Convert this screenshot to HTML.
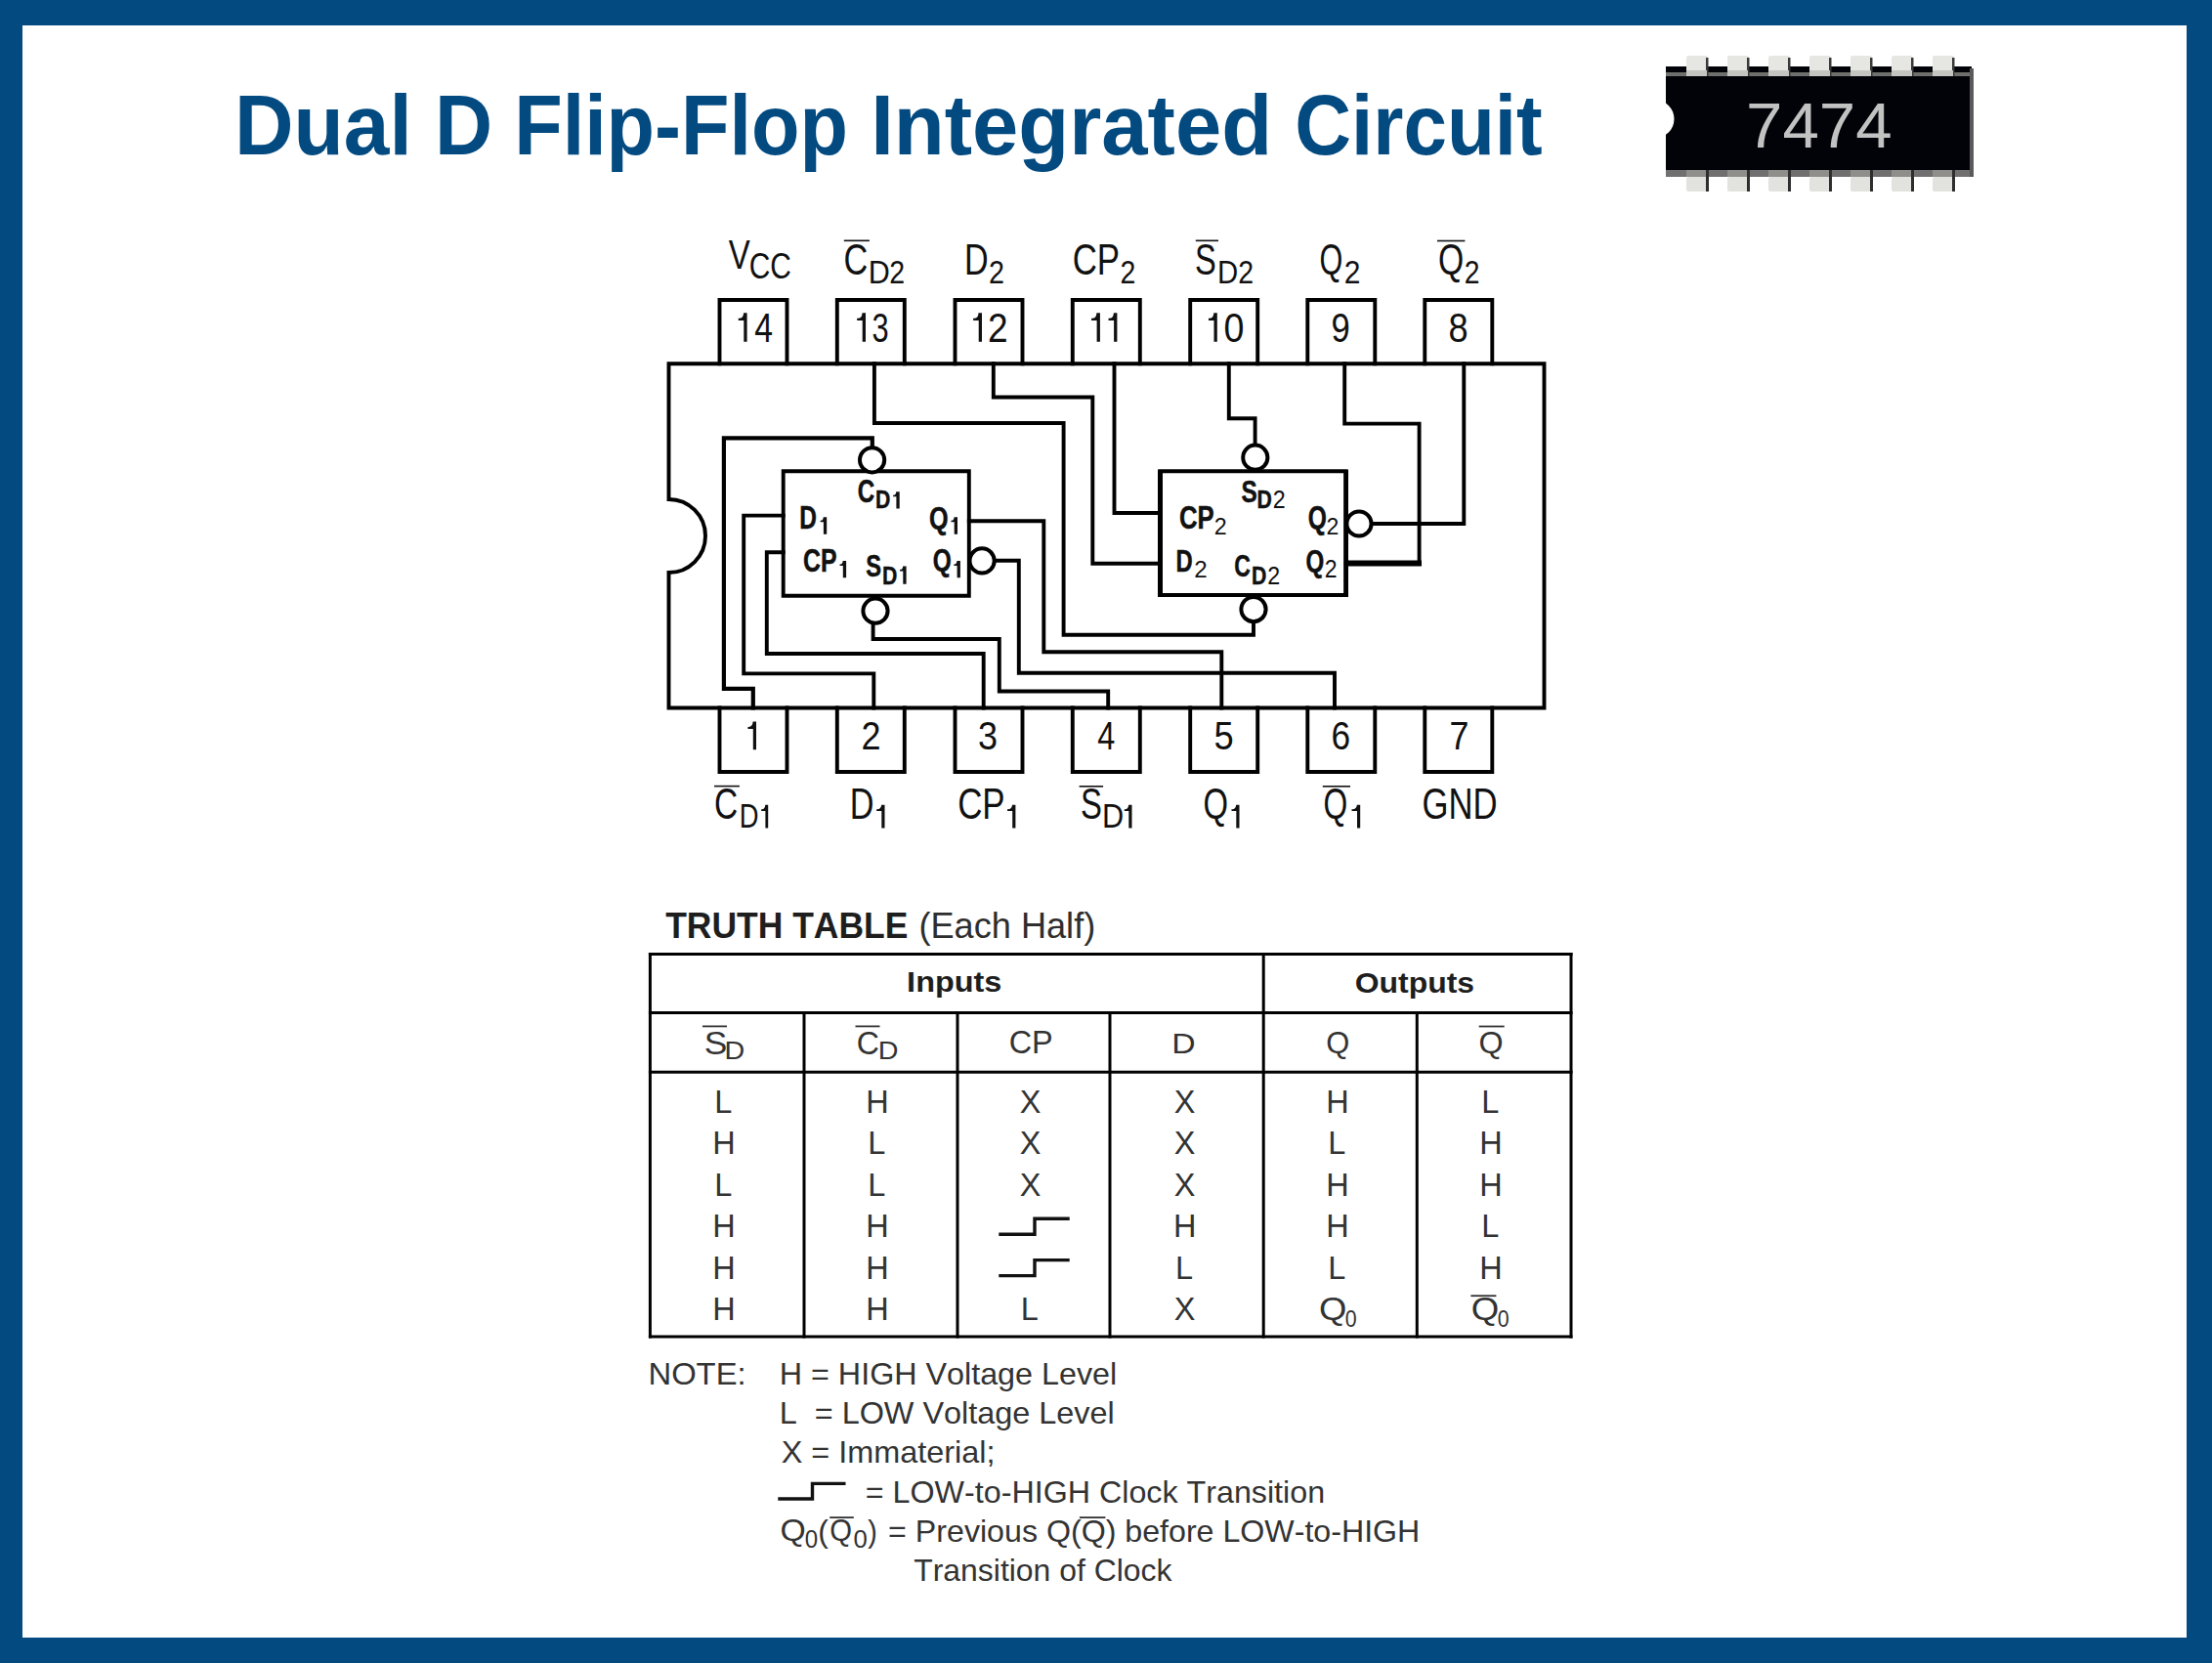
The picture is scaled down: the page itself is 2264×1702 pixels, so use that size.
<!DOCTYPE html>
<html><head><meta charset="utf-8"><style>
html,body{margin:0;padding:0;background:#034a80;overflow:hidden;width:2264px;height:1702px;}
svg{display:block;}
text{font-family:"Liberation Sans",sans-serif;font-kerning:none;}
</style></head><body>
<svg width="2264" height="1702" viewBox="0 0 2264 1702">
<rect x="0" y="0" width="2264" height="1702" fill="#034a80"/>
<rect x="23" y="26" width="2215" height="1650" fill="#fff"/>
<text x="239.99" y="157.60" font-size="87.50" font-weight="bold" fill="#034a80" textLength="181.75" lengthAdjust="spacingAndGlyphs">Dual</text>
<text x="444.92" y="157.60" font-size="87.50" font-weight="bold" fill="#034a80" textLength="59.11" lengthAdjust="spacingAndGlyphs">D</text>
<text x="526.18" y="157.60" font-size="87.50" font-weight="bold" fill="#034a80" textLength="341.74" lengthAdjust="spacingAndGlyphs">Flip-Flop</text>
<text x="891.21" y="157.60" font-size="87.50" font-weight="bold" fill="#034a80" textLength="410.89" lengthAdjust="spacingAndGlyphs">Integrated</text>
<text x="1325.22" y="157.60" font-size="87.50" font-weight="bold" fill="#034a80" textLength="253.56" lengthAdjust="spacingAndGlyphs">Circuit</text>
<rect x="1705" y="68" width="313" height="107" fill="#020308"/>
<rect x="1705" y="74" width="313" height="4" fill="#6f6f6d"/>
<rect x="1705" y="174" width="313" height="7" fill="#707070"/>
<rect x="2016" y="70" width="4" height="111" fill="#5a5a5a"/>
<rect x="1726" y="57" width="22" height="21" rx="2" fill="#e6e6e2"/>
<rect x="1746" y="59" width="2.5" height="19" fill="#3a3a3a"/>
<rect x="1726" y="72" width="21" height="6" fill="#c4c4c0"/>
<rect x="1726" y="181" width="23" height="15" rx="2" fill="#e2e2de"/>
<rect x="1746" y="174" width="3" height="22" fill="#2e2e2e"/>
<rect x="1726" y="174" width="20" height="7" fill="#8e8e8a"/>
<rect x="1768" y="57" width="22" height="21" rx="2" fill="#e6e6e2"/>
<rect x="1788" y="59" width="2.5" height="19" fill="#3a3a3a"/>
<rect x="1768" y="72" width="21" height="6" fill="#c4c4c0"/>
<rect x="1768" y="181" width="23" height="15" rx="2" fill="#e2e2de"/>
<rect x="1788" y="174" width="3" height="22" fill="#2e2e2e"/>
<rect x="1768" y="174" width="20" height="7" fill="#8e8e8a"/>
<rect x="1810" y="57" width="22" height="21" rx="2" fill="#e6e6e2"/>
<rect x="1830" y="59" width="2.5" height="19" fill="#3a3a3a"/>
<rect x="1810" y="72" width="21" height="6" fill="#c4c4c0"/>
<rect x="1810" y="181" width="23" height="15" rx="2" fill="#e2e2de"/>
<rect x="1830" y="174" width="3" height="22" fill="#2e2e2e"/>
<rect x="1810" y="174" width="20" height="7" fill="#8e8e8a"/>
<rect x="1852" y="57" width="22" height="21" rx="2" fill="#e6e6e2"/>
<rect x="1872" y="59" width="2.5" height="19" fill="#3a3a3a"/>
<rect x="1852" y="72" width="21" height="6" fill="#c4c4c0"/>
<rect x="1852" y="181" width="23" height="15" rx="2" fill="#e2e2de"/>
<rect x="1872" y="174" width="3" height="22" fill="#2e2e2e"/>
<rect x="1852" y="174" width="20" height="7" fill="#8e8e8a"/>
<rect x="1894" y="57" width="22" height="21" rx="2" fill="#e6e6e2"/>
<rect x="1914" y="59" width="2.5" height="19" fill="#3a3a3a"/>
<rect x="1894" y="72" width="21" height="6" fill="#c4c4c0"/>
<rect x="1894" y="181" width="23" height="15" rx="2" fill="#e2e2de"/>
<rect x="1914" y="174" width="3" height="22" fill="#2e2e2e"/>
<rect x="1894" y="174" width="20" height="7" fill="#8e8e8a"/>
<rect x="1936" y="57" width="22" height="21" rx="2" fill="#e6e6e2"/>
<rect x="1956" y="59" width="2.5" height="19" fill="#3a3a3a"/>
<rect x="1936" y="72" width="21" height="6" fill="#c4c4c0"/>
<rect x="1936" y="181" width="23" height="15" rx="2" fill="#e2e2de"/>
<rect x="1956" y="174" width="3" height="22" fill="#2e2e2e"/>
<rect x="1936" y="174" width="20" height="7" fill="#8e8e8a"/>
<rect x="1978" y="57" width="22" height="21" rx="2" fill="#e6e6e2"/>
<rect x="1998" y="59" width="2.5" height="19" fill="#3a3a3a"/>
<rect x="1978" y="72" width="21" height="6" fill="#c4c4c0"/>
<rect x="1978" y="181" width="23" height="15" rx="2" fill="#e2e2de"/>
<rect x="1998" y="174" width="3" height="22" fill="#2e2e2e"/>
<rect x="1978" y="174" width="20" height="7" fill="#8e8e8a"/>
<circle cx="1694" cy="121.7" r="19.5" fill="#fff"/>
<text x="1787.05" y="150.50" font-size="64.24" fill="#c2c2c2" textLength="149.62" lengthAdjust="spacingAndGlyphs">7474</text>
<path d="M684.5,511 L684.5,372.2 L1580.5,372.2 L1580.5,724.5 L684.5,724.5 L684.5,586" stroke="#000" stroke-width="3.9" fill="none" stroke-linejoin="miter" stroke-linecap="square"/>
<path d="M684.5,511 A37.5,37.5 0 0 1 684.5,586" stroke="#000" stroke-width="3.9" fill="none"/>
<path d="M736.5,372.2 L736.5,307 L805.5,307 L805.5,372.2" stroke="#000" stroke-width="3.9" fill="none" stroke-linejoin="miter" stroke-linecap="square"/>
<path d="M856.8,372.2 L856.8,307 L925.8,307 L925.8,372.2" stroke="#000" stroke-width="3.9" fill="none" stroke-linejoin="miter" stroke-linecap="square"/>
<path d="M977.5,372.2 L977.5,307 L1046.5,307 L1046.5,372.2" stroke="#000" stroke-width="3.9" fill="none" stroke-linejoin="miter" stroke-linecap="square"/>
<path d="M1097.8,372.2 L1097.8,307 L1166.8,307 L1166.8,372.2" stroke="#000" stroke-width="3.9" fill="none" stroke-linejoin="miter" stroke-linecap="square"/>
<path d="M1218.2,372.2 L1218.2,307 L1287.2,307 L1287.2,372.2" stroke="#000" stroke-width="3.9" fill="none" stroke-linejoin="miter" stroke-linecap="square"/>
<path d="M1338.3,372.2 L1338.3,307 L1407.3,307 L1407.3,372.2" stroke="#000" stroke-width="3.9" fill="none" stroke-linejoin="miter" stroke-linecap="square"/>
<path d="M1458.3,372.2 L1458.3,307 L1527.3,307 L1527.3,372.2" stroke="#000" stroke-width="3.9" fill="none" stroke-linejoin="miter" stroke-linecap="square"/>
<path d="M736.5,724.5 L736.5,790 L805.5,790 L805.5,724.5" stroke="#000" stroke-width="3.9" fill="none" stroke-linejoin="miter" stroke-linecap="square"/>
<path d="M856.8,724.5 L856.8,790 L925.8,790 L925.8,724.5" stroke="#000" stroke-width="3.9" fill="none" stroke-linejoin="miter" stroke-linecap="square"/>
<path d="M977.5,724.5 L977.5,790 L1046.5,790 L1046.5,724.5" stroke="#000" stroke-width="3.9" fill="none" stroke-linejoin="miter" stroke-linecap="square"/>
<path d="M1097.8,724.5 L1097.8,790 L1166.8,790 L1166.8,724.5" stroke="#000" stroke-width="3.9" fill="none" stroke-linejoin="miter" stroke-linecap="square"/>
<path d="M1218.2,724.5 L1218.2,790 L1287.2,790 L1287.2,724.5" stroke="#000" stroke-width="3.9" fill="none" stroke-linejoin="miter" stroke-linecap="square"/>
<path d="M1338.3,724.5 L1338.3,790 L1407.3,790 L1407.3,724.5" stroke="#000" stroke-width="3.9" fill="none" stroke-linejoin="miter" stroke-linecap="square"/>
<path d="M1458.3,724.5 L1458.3,790 L1527.3,790 L1527.3,724.5" stroke="#000" stroke-width="3.9" fill="none" stroke-linejoin="miter" stroke-linecap="square"/>
<path d="M801.7,482.2 L991.8,482.2 L991.8,609.8 L801.7,609.8 L801.7,482.2" stroke="#000" stroke-width="3.9" fill="none" stroke-linejoin="miter" stroke-linecap="square"/>
<path d="M1187.2,482.2 L1377.7,482.2 L1377.7,609 L1187.2,609 L1187.2,482.2" stroke="#000" stroke-width="3.9" fill="none" stroke-linejoin="miter" stroke-linecap="square"/>
<rect x="1185" y="481" width="5" height="130" fill="#000"/>
<rect x="1375.2" y="481" width="4.8" height="130" fill="#000"/>
<path d="M894.9,372.2 L894.9,433 L1088.6,433 L1088.6,649.7 L1283,649.7 L1283,636" stroke="#000" stroke-width="3.9" fill="none" stroke-linejoin="miter" stroke-linecap="square"/>
<path d="M1016.8,372.2 L1016.8,406.5 L1118.3,406.5 L1118.3,576.8 L1187,576.8" stroke="#000" stroke-width="3.9" fill="none" stroke-linejoin="miter" stroke-linecap="square"/>
<path d="M1140.5,372.2 L1140.5,525 L1187,525" stroke="#000" stroke-width="3.9" fill="none" stroke-linejoin="miter" stroke-linecap="square"/>
<path d="M1257.8,372.2 L1257.8,428.3 L1284.6,428.3 L1284.6,456" stroke="#000" stroke-width="3.9" fill="none" stroke-linejoin="miter" stroke-linecap="square"/>
<path d="M1376.2,372.2 L1376.2,433.6 L1452.6,433.6 L1452.6,576.6 L1377.7,576.6" stroke="#000" stroke-width="3.9" fill="none" stroke-linejoin="miter" stroke-linecap="square"/>
<rect x="1378" y="573.5" width="77" height="6" fill="#000"/>
<path d="M1498.3,372.2 L1498.3,536 L1403,536" stroke="#000" stroke-width="3.9" fill="none" stroke-linejoin="miter" stroke-linecap="square"/>
<path d="M770.8,724.5 L770.8,704.8 L740.9,704.8 L740.9,448.3 L892.8,448.3 L892.8,457" stroke="#000" stroke-width="4.2" fill="none" stroke-linejoin="miter" stroke-linecap="square"/>
<path d="M894.3,724.5 L894.3,689.4 L761.2,689.4 L761.2,527.6 L801.7,527.6" stroke="#000" stroke-width="3.9" fill="none" stroke-linejoin="miter" stroke-linecap="square"/>
<path d="M1006.7,724.5 L1006.7,669 L784.8,669 L784.8,565.2 L801.7,565.2" stroke="#000" stroke-width="3.9" fill="none" stroke-linejoin="miter" stroke-linecap="square"/>
<path d="M1134.2,724.5 L1134.2,707.5 L1022.8,707.5 L1022.8,654 L893.6,654 L893.6,638" stroke="#000" stroke-width="3.9" fill="none" stroke-linejoin="miter" stroke-linecap="square"/>
<path d="M1250.3,724.5 L1250.3,667.3 L1068.3,667.3 L1068.3,533.3 L991.8,533.3" stroke="#000" stroke-width="3.9" fill="none" stroke-linejoin="miter" stroke-linecap="square"/>
<path d="M1366,724.5 L1366,688.7 L1042.8,688.7 L1042.8,573.8 L1017,573.8" stroke="#000" stroke-width="3.9" fill="none" stroke-linejoin="miter" stroke-linecap="square"/>
<circle cx="892.6" cy="470.8" r="12.6" stroke="#000" stroke-width="4" fill="#fff"/>
<circle cx="896" cy="625.2" r="12.6" stroke="#000" stroke-width="4" fill="#fff"/>
<circle cx="1005.1" cy="573.9" r="12.6" stroke="#000" stroke-width="4" fill="#fff"/>
<circle cx="1284.8" cy="468.2" r="12.6" stroke="#000" stroke-width="4" fill="#fff"/>
<circle cx="1283" cy="623.6" r="12.6" stroke="#000" stroke-width="4" fill="#fff"/>
<circle cx="1391" cy="536" r="12.6" stroke="#000" stroke-width="4" fill="#fff"/>
<path d="M764.60,320.30 L764.60,349.80 L761.30,349.80 L761.30,327.97 L755.75,327.97 L755.75,325.76 Q760.63,326.44 761.15,320.30 Z" fill="#111"/>
<text x="772.23" y="349.80" font-size="42.88" fill="#111" textLength="18.76" lengthAdjust="spacingAndGlyphs">4</text>
<path d="M886.00,320.30 L886.00,349.80 L882.70,349.80 L882.70,327.97 L877.15,327.97 L877.15,325.76 Q882.03,326.44 882.55,320.30 Z" fill="#111"/>
<text x="892.53" y="349.80" font-size="42.88" fill="#111" textLength="17.13" lengthAdjust="spacingAndGlyphs">3</text>
<path d="M1005.00,320.30 L1005.00,349.80 L1001.70,349.80 L1001.70,327.97 L996.15,327.97 L996.15,325.76 Q1001.03,326.44 1001.55,320.30 Z" fill="#111"/>
<text x="1010.93" y="349.80" font-size="42.88" fill="#111" textLength="20.63" lengthAdjust="spacingAndGlyphs">2</text>
<path d="M1125.90,320.30 L1125.90,349.80 L1122.60,349.80 L1122.60,327.97 L1117.05,327.97 L1117.05,325.76 Q1121.93,326.44 1122.45,320.30 Z" fill="#111"/>
<path d="M1143.40,320.30 L1143.40,349.80 L1140.10,349.80 L1140.10,327.97 L1134.55,327.97 L1134.55,325.76 Q1139.43,326.44 1139.95,320.30 Z" fill="#111"/>
<path d="M1245.80,320.30 L1245.80,349.80 L1242.50,349.80 L1242.50,327.97 L1236.95,327.97 L1236.95,325.76 Q1241.83,326.44 1242.35,320.30 Z" fill="#111"/>
<text x="1252.53" y="349.80" font-size="42.88" fill="#111" textLength="20.94" lengthAdjust="spacingAndGlyphs">0</text>
<text x="1362.38" y="349.80" font-size="42.88" fill="#111" textLength="19.26" lengthAdjust="spacingAndGlyphs">9</text>
<text x="1482.43" y="349.80" font-size="42.88" fill="#111" textLength="20.15" lengthAdjust="spacingAndGlyphs">8</text>
<path d="M774.00,738.60 L774.00,767.20 L770.80,767.20 L770.80,746.04 L765.42,746.04 L765.42,743.89 Q770.15,744.55 770.65,738.60 Z" fill="#111"/>
<text x="881.59" y="767.20" font-size="41.57" fill="#111" textLength="20.02" lengthAdjust="spacingAndGlyphs">2</text>
<text x="1001.03" y="767.20" font-size="41.57" fill="#111" textLength="20.06" lengthAdjust="spacingAndGlyphs">3</text>
<text x="1123.25" y="767.20" font-size="41.57" fill="#111" textLength="18.10" lengthAdjust="spacingAndGlyphs">4</text>
<text x="1242.55" y="767.20" font-size="41.57" fill="#111" textLength="20.18" lengthAdjust="spacingAndGlyphs">5</text>
<text x="1362.51" y="767.20" font-size="41.57" fill="#111" textLength="19.65" lengthAdjust="spacingAndGlyphs">6</text>
<text x="1483.56" y="767.20" font-size="41.57" fill="#111" textLength="19.94" lengthAdjust="spacingAndGlyphs">7</text>
<text x="745.76" y="274.80" font-size="43.17" fill="#111" textLength="21.99" lengthAdjust="spacingAndGlyphs">V</text>
<text x="766.78" y="284.90" font-size="36.77" fill="#111" textLength="43.16" lengthAdjust="spacingAndGlyphs">CC</text>
<text x="863.56" y="281.20" font-size="44.04" fill="#111" textLength="24.75" lengthAdjust="spacingAndGlyphs">C</text>
<text x="888.79" y="290.10" font-size="33.72" fill="#111" textLength="22.07" lengthAdjust="spacingAndGlyphs">D</text>
<text x="910.16" y="290.10" font-size="33.72" fill="#111" textLength="15.87" lengthAdjust="spacingAndGlyphs">2</text>
<rect x="863.8" y="245.5" width="26.100000000000023" height="1.6" fill="#111"/>
<text x="986.90" y="281.20" font-size="44.04" fill="#111" textLength="24.63" lengthAdjust="spacingAndGlyphs">D</text>
<text x="1012.05" y="290.10" font-size="33.72" fill="#111" textLength="15.99" lengthAdjust="spacingAndGlyphs">2</text>
<text x="1097.63" y="281.20" font-size="44.04" fill="#111" textLength="48.41" lengthAdjust="spacingAndGlyphs">CP</text>
<text x="1146.46" y="290.10" font-size="33.72" fill="#111" textLength="15.87" lengthAdjust="spacingAndGlyphs">2</text>
<text x="1223.02" y="281.20" font-size="44.04" fill="#111" textLength="21.78" lengthAdjust="spacingAndGlyphs">S</text>
<text x="1245.99" y="290.10" font-size="33.72" fill="#111" textLength="21.22" lengthAdjust="spacingAndGlyphs">D</text>
<text x="1267.26" y="290.10" font-size="33.72" fill="#111" textLength="15.87" lengthAdjust="spacingAndGlyphs">2</text>
<rect x="1223.8" y="245.5" width="23.200000000000045" height="1.6" fill="#111"/>
<text x="1350.45" y="281.20" font-size="44.04" fill="#111" textLength="23.82" lengthAdjust="spacingAndGlyphs">Q</text>
<text x="1375.69" y="290.10" font-size="33.72" fill="#111" textLength="16.72" lengthAdjust="spacingAndGlyphs">2</text>
<text x="1472.10" y="281.20" font-size="44.04" fill="#111" textLength="26.21" lengthAdjust="spacingAndGlyphs">Q</text>
<text x="1498.68" y="290.10" font-size="33.72" fill="#111" textLength="15.75" lengthAdjust="spacingAndGlyphs">2</text>
<rect x="1471" y="245.7" width="28.40000000000009" height="1.6" fill="#111"/>
<text x="731.10" y="838.10" font-size="43.46" fill="#111" textLength="24.17" lengthAdjust="spacingAndGlyphs">C</text>
<text x="756.76" y="847.40" font-size="34.30" fill="#111" textLength="19.75" lengthAdjust="spacingAndGlyphs">D</text>
<path d="M786.20,823.80 L786.20,847.40 L783.40,847.40 L783.40,829.94 L779.20,829.94 L779.20,828.17 Q782.90,828.71 783.25,823.80 Z" fill="#111"/>
<rect x="731" y="803.8000000000001" width="25.899999999999977" height="1.6" fill="#111"/>
<text x="869.79" y="838.10" font-size="43.46" fill="#111" textLength="24.75" lengthAdjust="spacingAndGlyphs">D</text>
<path d="M905.50,823.80 L905.50,847.40 L902.30,847.40 L902.30,829.94 L897.10,829.94 L897.10,828.17 Q901.68,828.71 902.15,823.80 Z" fill="#111"/>
<text x="980.13" y="838.10" font-size="43.46" fill="#111" textLength="48.52" lengthAdjust="spacingAndGlyphs">CP</text>
<path d="M1039.40,823.80 L1039.40,847.40 L1036.20,847.40 L1036.20,829.94 L1031.00,829.94 L1031.00,828.17 Q1035.58,828.71 1036.05,823.80 Z" fill="#111"/>
<text x="1105.91" y="838.10" font-size="43.46" fill="#111" textLength="21.90" lengthAdjust="spacingAndGlyphs">S</text>
<text x="1127.98" y="847.40" font-size="34.30" fill="#111" textLength="22.19" lengthAdjust="spacingAndGlyphs">D</text>
<path d="M1158.50,823.80 L1158.50,847.40 L1155.30,847.40 L1155.30,829.94 L1150.80,829.94 L1150.80,828.17 Q1154.76,828.71 1155.15,823.80 Z" fill="#111"/>
<rect x="1104.6" y="804.0" width="24.5" height="1.6" fill="#111"/>
<text x="1231.45" y="838.10" font-size="43.46" fill="#111" textLength="25.52" lengthAdjust="spacingAndGlyphs">Q</text>
<path d="M1268.50,823.80 L1268.50,847.40 L1265.30,847.40 L1265.30,829.94 L1260.50,829.94 L1260.50,828.17 Q1264.72,828.71 1265.15,823.80 Z" fill="#111"/>
<text x="1354.49" y="838.10" font-size="43.46" fill="#111" textLength="24.73" lengthAdjust="spacingAndGlyphs">Q</text>
<path d="M1392.20,823.80 L1392.20,847.40 L1389.00,847.40 L1389.00,829.94 L1383.50,829.94 L1383.50,828.17 Q1388.34,828.71 1388.85,823.80 Z" fill="#111"/>
<rect x="1353.8" y="804.0" width="28.200000000000045" height="1.6" fill="#111"/>
<text x="1455.55" y="838.10" font-size="43.46" fill="#111" textLength="77.11" lengthAdjust="spacingAndGlyphs">GND</text>
<text x="877.81" y="513.50" font-size="32.56" font-weight="bold" fill="#111" textLength="17.45" lengthAdjust="spacingAndGlyphs" stroke="#111" stroke-width="0.5">C</text>
<text x="896.08" y="520.40" font-size="24.85" font-weight="bold" fill="#111" textLength="15.31" lengthAdjust="spacingAndGlyphs" stroke="#111" stroke-width="0.5">D</text>
<path d="M920.70,503.30 L920.70,520.40 L917.40,520.40 L917.40,508.30 L914.10,508.30 L914.10,506.70 Q917.00,507.30 917.25,503.30 Z" fill="#111"/>
<text x="818.16" y="540.70" font-size="32.41" font-weight="bold" fill="#111" textLength="17.66" lengthAdjust="spacingAndGlyphs" stroke="#111" stroke-width="0.5">D</text>
<path d="M846.20,529.30 L846.20,546.80 L842.90,546.80 L842.90,534.30 L839.60,534.30 L839.60,532.70 Q842.50,533.30 842.75,529.30 Z" fill="#111"/>
<text x="950.97" y="540.50" font-size="32.12" font-weight="bold" fill="#111" textLength="19.59" lengthAdjust="spacingAndGlyphs" stroke="#111" stroke-width="0.5">Q</text>
<path d="M980.00,529.30 L980.00,546.80 L976.70,546.80 L976.70,534.30 L973.40,534.30 L973.40,532.70 Q976.30,533.30 976.55,529.30 Z" fill="#111"/>
<text x="821.98" y="584.70" font-size="32.56" font-weight="bold" fill="#111" textLength="34.47" lengthAdjust="spacingAndGlyphs" stroke="#111" stroke-width="0.5">CP</text>
<path d="M866.10,574.10 L866.10,591.20 L862.80,591.20 L862.80,579.10 L859.50,579.10 L859.50,577.50 Q862.40,578.10 862.65,574.10 Z" fill="#111"/>
<text x="886.22" y="590.00" font-size="31.98" font-weight="bold" fill="#111" textLength="15.81" lengthAdjust="spacingAndGlyphs" stroke="#111" stroke-width="0.5">S</text>
<text x="902.98" y="597.70" font-size="26.60" font-weight="bold" fill="#111" textLength="15.31" lengthAdjust="spacingAndGlyphs" stroke="#111" stroke-width="0.5">D</text>
<path d="M927.60,579.40 L927.60,597.70 L924.30,597.70 L924.30,584.40 L921.00,584.40 L921.00,582.80 Q923.90,583.40 924.15,579.40 Z" fill="#111"/>
<text x="954.70" y="584.40" font-size="32.12" font-weight="bold" fill="#111" textLength="19.03" lengthAdjust="spacingAndGlyphs" stroke="#111" stroke-width="0.5">Q</text>
<path d="M982.90,574.10 L982.90,591.20 L979.60,591.20 L979.60,579.10 L976.30,579.10 L976.30,577.50 Q979.20,578.10 979.45,574.10 Z" fill="#111"/>
<text x="1270.40" y="513.90" font-size="31.98" font-weight="bold" fill="#111" textLength="16.25" lengthAdjust="spacingAndGlyphs" stroke="#111" stroke-width="0.5">S</text>
<text x="1286.38" y="520.40" font-size="24.85" font-weight="bold" fill="#111" textLength="15.31" lengthAdjust="spacingAndGlyphs" stroke="#111" stroke-width="0.5">D</text>
<text x="1302.83" y="520.40" font-size="24.85" fill="#111" textLength="12.94" lengthAdjust="spacingAndGlyphs">2</text>
<text x="1206.94" y="540.70" font-size="32.99" font-weight="bold" fill="#111" textLength="35.73" lengthAdjust="spacingAndGlyphs" stroke="#111" stroke-width="0.5">CP</text>
<text x="1242.63" y="547.30" font-size="24.27" fill="#111" textLength="12.94" lengthAdjust="spacingAndGlyphs">2</text>
<text x="1338.79" y="540.50" font-size="32.70" font-weight="bold" fill="#111" textLength="19.14" lengthAdjust="spacingAndGlyphs" stroke="#111" stroke-width="0.5">Q</text>
<text x="1357.44" y="547.30" font-size="24.27" fill="#111" textLength="12.82" lengthAdjust="spacingAndGlyphs">2</text>
<text x="1203.61" y="584.70" font-size="31.98" font-weight="bold" fill="#111" textLength="17.19" lengthAdjust="spacingAndGlyphs" stroke="#111" stroke-width="0.5">D</text>
<text x="1222.29" y="591.20" font-size="24.27" fill="#111" textLength="13.43" lengthAdjust="spacingAndGlyphs">2</text>
<text x="1263.26" y="590.00" font-size="31.98" font-weight="bold" fill="#111" textLength="16.57" lengthAdjust="spacingAndGlyphs" stroke="#111" stroke-width="0.5">C</text>
<text x="1281.08" y="597.70" font-size="26.02" font-weight="bold" fill="#111" textLength="15.31" lengthAdjust="spacingAndGlyphs" stroke="#111" stroke-width="0.5">D</text>
<text x="1297.13" y="597.70" font-size="26.02" fill="#111" textLength="12.94" lengthAdjust="spacingAndGlyphs">2</text>
<text x="1336.41" y="584.50" font-size="32.27" font-weight="bold" fill="#111" textLength="18.70" lengthAdjust="spacingAndGlyphs" stroke="#111" stroke-width="0.5">Q</text>
<text x="1355.84" y="591.20" font-size="24.85" fill="#111" textLength="12.82" lengthAdjust="spacingAndGlyphs">2</text>
<text x="681.20" y="959.90" font-size="37.79" font-weight="bold" fill="#1e1e1e" textLength="248.18" lengthAdjust="spacingAndGlyphs">TRUTH TABLE</text>
<text x="940.46" y="959.90" font-size="37.80" fill="#2e2e2e" textLength="180.78" lengthAdjust="spacingAndGlyphs">(Each Half)</text>
<path d="M665.4,976.5 L1608,976.5" stroke="#000" stroke-width="3.0" fill="none" stroke-linejoin="miter" stroke-linecap="square" stroke-linecap="butt"/>
<path d="M665.4,1036.6 L1608,1036.6" stroke="#000" stroke-width="3.0" fill="none" stroke-linejoin="miter" stroke-linecap="square" stroke-linecap="butt"/>
<path d="M665.4,1097.2 L1608,1097.2" stroke="#000" stroke-width="3.0" fill="none" stroke-linejoin="miter" stroke-linecap="square" stroke-linecap="butt"/>
<path d="M665.4,1368 L1608,1368" stroke="#000" stroke-width="3.0" fill="none" stroke-linejoin="miter" stroke-linecap="square" stroke-linecap="butt"/>
<path d="M665.4,976.5 L665.4,1368" stroke="#000" stroke-width="3.0" fill="none" stroke-linejoin="miter" stroke-linecap="square"/>
<path d="M1293.2,976.5 L1293.2,1368" stroke="#000" stroke-width="3.0" fill="none" stroke-linejoin="miter" stroke-linecap="square"/>
<path d="M1608,976.5 L1608,1368" stroke="#000" stroke-width="3.0" fill="none" stroke-linejoin="miter" stroke-linecap="square"/>
<path d="M823,1036.6 L823,1368" stroke="#000" stroke-width="3.0" fill="none" stroke-linejoin="miter" stroke-linecap="square"/>
<path d="M980,1036.6 L980,1368" stroke="#000" stroke-width="3.0" fill="none" stroke-linejoin="miter" stroke-linecap="square"/>
<path d="M1136,1036.6 L1136,1368" stroke="#000" stroke-width="3.0" fill="none" stroke-linejoin="miter" stroke-linecap="square"/>
<path d="M1450.3,1036.6 L1450.3,1368" stroke="#000" stroke-width="3.0" fill="none" stroke-linejoin="miter" stroke-linecap="square"/>
<text x="928.13" y="1015.30" font-size="29.51" font-weight="bold" fill="#1e1e1e" textLength="97.20" lengthAdjust="spacingAndGlyphs">Inputs</text>
<text x="1386.69" y="1016.20" font-size="30.38" font-weight="bold" fill="#1e1e1e" textLength="122.42" lengthAdjust="spacingAndGlyphs">Outputs</text>
<text x="720.69" y="1078.60" font-size="32.41" fill="#333" textLength="23.64" lengthAdjust="spacingAndGlyphs">S</text>
<text x="741.45" y="1084.00" font-size="26.16" fill="#333" textLength="20.73" lengthAdjust="spacingAndGlyphs">D</text>
<rect x="719" y="1049.5" width="25" height="1.8" fill="#333"/>
<text x="876.67" y="1078.60" font-size="32.41" fill="#333" textLength="23.15" lengthAdjust="spacingAndGlyphs">C</text>
<text x="898.65" y="1084.00" font-size="26.16" fill="#333" textLength="20.73" lengthAdjust="spacingAndGlyphs">D</text>
<rect x="875.5" y="1049.5" width="25" height="1.8" fill="#333"/>
<text x="1032.65" y="1078.30" font-size="32.41" fill="#333" textLength="45.06" lengthAdjust="spacingAndGlyphs">CP</text>
<text x="1199.23" y="1077.80" font-size="29.80" fill="#333" textLength="24.39" lengthAdjust="spacingAndGlyphs">D</text>
<text x="1357.14" y="1077.80" font-size="31.25" fill="#333" textLength="24.04" lengthAdjust="spacingAndGlyphs">Q</text>
<text x="1513.47" y="1077.80" font-size="31.25" fill="#333" textLength="25.07" lengthAdjust="spacingAndGlyphs">Q</text>
<rect x="1513.7" y="1049.6" width="26" height="1.8" fill="#333"/>
<text x="731.18" y="1139.00" font-size="33.14" fill="#333" textLength="18.06" lengthAdjust="spacingAndGlyphs">L</text>
<text x="886.27" y="1139.00" font-size="33.14" fill="#333" textLength="23.45" lengthAdjust="spacingAndGlyphs">H</text>
<text x="1043.75" y="1139.00" font-size="33.14" fill="#333" textLength="21.66" lengthAdjust="spacingAndGlyphs">X</text>
<text x="1201.85" y="1139.00" font-size="33.14" fill="#333" textLength="21.66" lengthAdjust="spacingAndGlyphs">X</text>
<text x="1357.27" y="1139.00" font-size="33.14" fill="#333" textLength="23.45" lengthAdjust="spacingAndGlyphs">H</text>
<text x="1516.18" y="1139.00" font-size="33.14" fill="#333" textLength="18.06" lengthAdjust="spacingAndGlyphs">L</text>
<text x="729.27" y="1181.40" font-size="33.14" fill="#333" textLength="23.45" lengthAdjust="spacingAndGlyphs">H</text>
<text x="888.18" y="1181.40" font-size="33.14" fill="#333" textLength="18.06" lengthAdjust="spacingAndGlyphs">L</text>
<text x="1043.75" y="1181.40" font-size="33.14" fill="#333" textLength="21.66" lengthAdjust="spacingAndGlyphs">X</text>
<text x="1201.85" y="1181.40" font-size="33.14" fill="#333" textLength="21.66" lengthAdjust="spacingAndGlyphs">X</text>
<text x="1359.18" y="1181.40" font-size="33.14" fill="#333" textLength="18.06" lengthAdjust="spacingAndGlyphs">L</text>
<text x="1514.27" y="1181.40" font-size="33.14" fill="#333" textLength="23.45" lengthAdjust="spacingAndGlyphs">H</text>
<text x="731.18" y="1223.80" font-size="33.14" fill="#333" textLength="18.06" lengthAdjust="spacingAndGlyphs">L</text>
<text x="888.18" y="1223.80" font-size="33.14" fill="#333" textLength="18.06" lengthAdjust="spacingAndGlyphs">L</text>
<text x="1043.75" y="1223.80" font-size="33.14" fill="#333" textLength="21.66" lengthAdjust="spacingAndGlyphs">X</text>
<text x="1201.85" y="1223.80" font-size="33.14" fill="#333" textLength="21.66" lengthAdjust="spacingAndGlyphs">X</text>
<text x="1357.27" y="1223.80" font-size="33.14" fill="#333" textLength="23.45" lengthAdjust="spacingAndGlyphs">H</text>
<text x="1514.27" y="1223.80" font-size="33.14" fill="#333" textLength="23.45" lengthAdjust="spacingAndGlyphs">H</text>
<text x="729.27" y="1266.20" font-size="33.14" fill="#333" textLength="23.45" lengthAdjust="spacingAndGlyphs">H</text>
<text x="886.27" y="1266.20" font-size="33.14" fill="#333" textLength="23.45" lengthAdjust="spacingAndGlyphs">H</text>
<path d="M1024,1263.2 L1059,1263.2 L1059,1247.2 L1093,1247.2" stroke="#111" stroke-width="3.4" fill="none" stroke-linejoin="miter" stroke-linecap="square" stroke-linecap="butt"/>
<text x="1200.97" y="1266.20" font-size="33.14" fill="#333" textLength="23.45" lengthAdjust="spacingAndGlyphs">H</text>
<text x="1357.27" y="1266.20" font-size="33.14" fill="#333" textLength="23.45" lengthAdjust="spacingAndGlyphs">H</text>
<text x="1516.18" y="1266.20" font-size="33.14" fill="#333" textLength="18.06" lengthAdjust="spacingAndGlyphs">L</text>
<text x="729.27" y="1308.60" font-size="33.14" fill="#333" textLength="23.45" lengthAdjust="spacingAndGlyphs">H</text>
<text x="886.27" y="1308.60" font-size="33.14" fill="#333" textLength="23.45" lengthAdjust="spacingAndGlyphs">H</text>
<path d="M1024,1305.6 L1059,1305.6 L1059,1289.6 L1093,1289.6" stroke="#111" stroke-width="3.4" fill="none" stroke-linejoin="miter" stroke-linecap="square" stroke-linecap="butt"/>
<text x="1202.88" y="1308.60" font-size="33.14" fill="#333" textLength="18.06" lengthAdjust="spacingAndGlyphs">L</text>
<text x="1359.18" y="1308.60" font-size="33.14" fill="#333" textLength="18.06" lengthAdjust="spacingAndGlyphs">L</text>
<text x="1514.27" y="1308.60" font-size="33.14" fill="#333" textLength="23.45" lengthAdjust="spacingAndGlyphs">H</text>
<text x="729.27" y="1351.00" font-size="33.14" fill="#333" textLength="23.45" lengthAdjust="spacingAndGlyphs">H</text>
<text x="886.27" y="1351.00" font-size="33.14" fill="#333" textLength="23.45" lengthAdjust="spacingAndGlyphs">H</text>
<text x="1044.78" y="1351.00" font-size="33.14" fill="#333" textLength="18.06" lengthAdjust="spacingAndGlyphs">L</text>
<text x="1201.85" y="1351.00" font-size="33.14" fill="#333" textLength="21.66" lengthAdjust="spacingAndGlyphs">X</text>
<text x="1349.97" y="1351.00" font-size="32.85" fill="#333" textLength="28.37" lengthAdjust="spacingAndGlyphs">Q</text>
<text x="1376.87" y="1357.90" font-size="24.71" fill="#333" textLength="11.87" lengthAdjust="spacingAndGlyphs">0</text>
<text x="1505.77" y="1351.00" font-size="32.85" fill="#333" textLength="28.49" lengthAdjust="spacingAndGlyphs">Q</text>
<text x="1532.67" y="1357.90" font-size="24.71" fill="#333" textLength="11.87" lengthAdjust="spacingAndGlyphs">0</text>
<rect x="1505.4" y="1325.3" width="26" height="1.8" fill="#333"/>
<text x="663.51" y="1417.20" font-size="30.50" fill="#333" textLength="100.08" lengthAdjust="spacingAndGlyphs">NOTE:</text>
<text x="797.75" y="1417.20" font-size="30.50" fill="#333" textLength="345.41" lengthAdjust="spacingAndGlyphs">H = HIGH Voltage Level</text>
<text x="797.74" y="1457.00" font-size="30.50" fill="#333" textLength="343.02" lengthAdjust="spacingAndGlyphs" xml:space="preserve">L  = LOW Voltage Level</text>
<text x="799.67" y="1496.80" font-size="30.50" fill="#333" textLength="218.74" lengthAdjust="spacingAndGlyphs">X = Immaterial;</text>
<path d="M798,1534 L831.5,1534 L831.5,1518.4 L863.8,1518.4" stroke="#111" stroke-width="3.4" fill="none" stroke-linejoin="miter" stroke-linecap="square" stroke-linecap="butt"/>
<text x="885.83" y="1537.80" font-size="30.50" fill="#333" textLength="470.27" lengthAdjust="spacingAndGlyphs">= LOW-to-HIGH Clock Transition</text>
<text x="798.40" y="1576.90" font-size="30.50" fill="#333" textLength="26.21" lengthAdjust="spacingAndGlyphs">Q</text>
<text x="823.66" y="1583.80" font-size="25.50" fill="#333" textLength="13.38" lengthAdjust="spacingAndGlyphs">0</text>
<text x="837.24" y="1577.60" font-size="30.50" fill="#333" textLength="10.55" lengthAdjust="spacingAndGlyphs">(</text>
<text x="849.31" y="1576.90" font-size="30.50" fill="#333" textLength="22.79" lengthAdjust="spacingAndGlyphs">Q</text>
<rect x="849.2" y="1552.2" width="24.6" height="1.8" fill="#333"/>
<text x="873.49" y="1583.80" font-size="25.50" fill="#333" textLength="14.31" lengthAdjust="spacingAndGlyphs">0</text>
<text x="888.23" y="1577.60" font-size="30.50" fill="#333" textLength="9.55" lengthAdjust="spacingAndGlyphs">)</text>
<text x="909.13" y="1577.60" font-size="30.50" fill="#333" textLength="544.19" lengthAdjust="spacingAndGlyphs">= Previous Q(Q) before LOW-to-HIGH</text>
<rect x="1104.9" y="1552.2" width="26.5" height="1.8" fill="#333"/>
<text x="935.28" y="1617.60" font-size="30.50" fill="#333" textLength="264.17" lengthAdjust="spacingAndGlyphs">Transition of Clock</text>
</svg>
</body></html>
